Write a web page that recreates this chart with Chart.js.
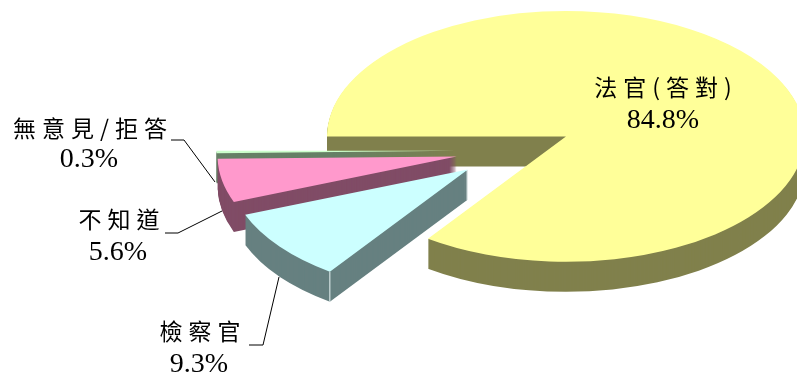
<!DOCTYPE html>
<html>
<head>
<meta charset="utf-8">
<style>
  html, body { margin: 0; padding: 0; background: #fff; }
  #wrap { position: relative; width: 797px; height: 376px; overflow: hidden; }
</style>
<script src="https://cdn.jsdelivr.net/npm/chart.js@4"></script>
</head>
<body>
<div id="wrap"><canvas id="pie3d"></canvas></div>
<script>
const categories = ['法官(答對)', '檢察官', '不知道', '無意見/拒答'];
const shares = [84.8, 9.3, 5.6, 0.3];
const topColors = ['#FFFF99', '#CCFFFF', '#FF99CC', '#CCFFCC'];
const sideColors = ['#80804C', '#668080', '#804C66', '#668066'];

const RADIUS = 239;     // slice radius before the tilt
const TILT = 0.525;     // vertical squash of the pie
const DEPTH = 30;       // height of the side wall, px on screen
const EXPLODE = 58.5;   // how far each slice moves out
const SERIF = '"Liberation Serif", "Noto Sans CJK TC", serif';
const CJK = '"Noto Sans CJK TC", serif';

// callouts: text block centre and leader line
const callouts = [
  { i: 0, x: 666, y: 87, dy: 34, pct: -3, line: null },
  { i: 1, x: 203, y: 331, dy: 34, pct: -4, line: [[249, 345], [263, 345], [279, 277]] },
  { i: 2, x: 122, y: 219, dy: 34, pct: -4, line: [[165, 233], [178, 233], [222, 211]] },
  { i: 3, x: 93, y: 128, dy: 32, pct: -4, line: [[171, 140], [184, 140], [215, 182]] }
];

function centre(chart) {
  const a = chart.chartArea;
  return { x: (a.left + a.right) / 2, y: (a.top + a.bottom) / 2 };
}

function tiltCanvas(chart) {
  const c = centre(chart);
  const ctx = chart.ctx;
  ctx.translate(0, c.y);
  ctx.scale(1, TILT);
  ctx.translate(0, -c.y);
}

function slicePath(ctx, arc, shift) {
  ctx.beginPath();
  ctx.moveTo(arc.x, arc.y + shift);
  ctx.arc(arc.x, arc.y + shift, RADIUS, arc.startAngle, arc.endAngle);
  ctx.closePath();
}

const pie3d = {
  id: 'pie3d',
  beforeDatasetsDraw(chart) {
    const ctx = chart.ctx;
    const c = centre(chart);
    const arcs = chart.getDatasetMeta(0).data;
    // the built-in offset option trims and grows slices, so move the arcs here
    arcs.forEach(arc => {
      const mid = (arc.startAngle + arc.endAngle) / 2;
      arc.x = c.x + Math.cos(mid) * EXPLODE;
      arc.y = c.y + Math.sin(mid) * EXPLODE;
    });
    ctx.save();
    tiltCanvas(chart);
    // side walls, back to front
    [0, 3, 2, 1].forEach(i => {
      ctx.fillStyle = sideColors[i];
      for (let d = DEPTH; d > 0; d--) {
        slicePath(ctx, arcs[i], d / TILT);
        ctx.fill();
      }
    });
    ctx.restore();
    ctx.save();
    tiltCanvas(chart);
  },
  afterDatasetsDraw(chart) {
    const ctx = chart.ctx;
    ctx.restore();

    // light edge on the front corner of the cyan slice
    const arc = chart.getDatasetMeta(0).data[1];
    const c = centre(chart);
    const px = arc.x + Math.cos(arc.startAngle) * RADIUS;
    const py = c.y + (arc.y - c.y + Math.sin(arc.startAngle) * RADIUS) * TILT;
    ctx.strokeStyle = '#e8f4f4';
    ctx.lineWidth = 1;
    ctx.beginPath();
    ctx.moveTo(px, py);
    ctx.lineTo(px, py + DEPTH);
    ctx.stroke();

    // labels and leader lines
    ctx.textAlign = 'center';
    ctx.textBaseline = 'middle';
    ctx.fillStyle = '#000';
    callouts.forEach(k => {
      if (k.line) {
        ctx.strokeStyle = '#000';
        ctx.lineWidth = 1;
        ctx.beginPath();
        k.line.forEach((p, n) => n ? ctx.lineTo(p[0], p[1]) : ctx.moveTo(p[0], p[1]));
        ctx.stroke();
      }
      ctx.font = '23px ' + CJK;
      ctx.letterSpacing = '6px';
      ctx.fillText(categories[k.i], k.x, k.y);
      ctx.font = '28px ' + SERIF;
      ctx.letterSpacing = '0px';
      ctx.fillText(shares[k.i].toFixed(1) + '%', k.x + k.pct, k.y + k.dy);
    });
  }
};

new Chart(document.getElementById('pie3d'), {
  type: 'pie',
  data: {
    labels: categories,
    datasets: [{
      data: shares,
      backgroundColor: topColors,
      borderWidth: 0,
      clip: false
    }]
  },
  options: {
    responsive: true,
    maintainAspectRatio: false,
    animation: false,
    events: [],
    rotation: 270,
    radius: RADIUS,
    layout: { padding: { left: 231, right: 0, top: 0, bottom: 75 } },
    plugins: { legend: { display: false }, tooltip: { enabled: false } }
  },
  plugins: [pie3d]
});
</script>
</body>
</html>
